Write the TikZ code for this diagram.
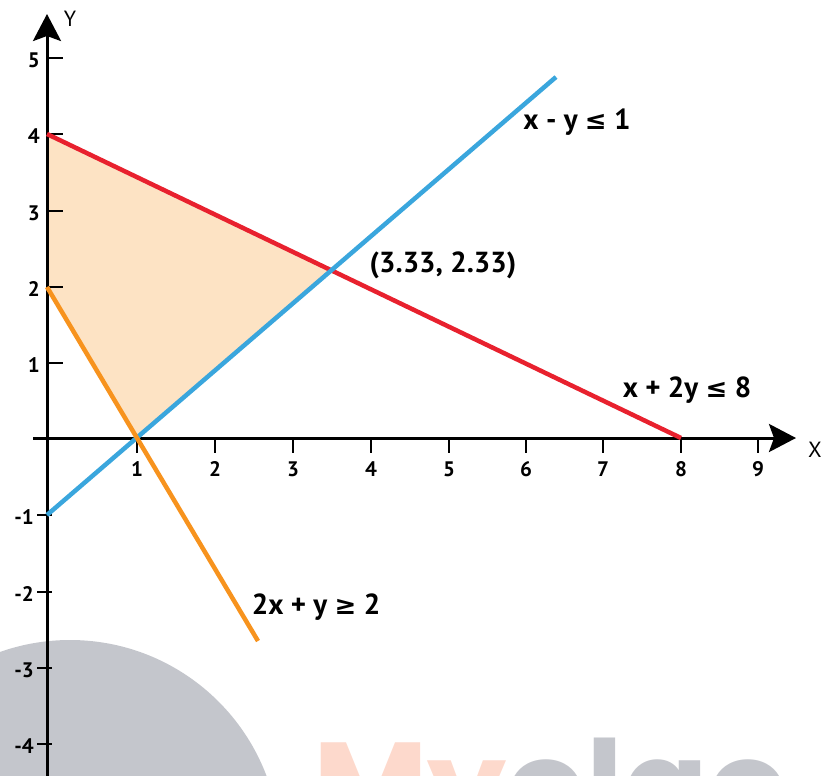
\documentclass[tikz,border=0pt]{standalone}
\usepackage{fontspec}
\setmainfont{PT Sans}
\newfontfamily\wmfont{Poppins}
\newfontfamily\symf{DejaVu Sans}
\usetikzlibrary{arrows.meta}
\definecolor{redl}{HTML}{E8212E}
\definecolor{bluel}{HTML}{3AA6DD}
\definecolor{orangel}{HTML}{F7931E}
\definecolor{fillc}{HTML}{FDE3C4}
\definecolor{wmgray}{HTML}{C4C6CC}
\definecolor{wmorange}{HTML}{FDD9CC}
\newcommand{\myle}{{\symf\fontsize{26}{30}\selectfont ≤}}
\newcommand{\myge}{{\symf\fontsize{26}{30}\selectfont ≥}}
\begin{document}
\begin{tikzpicture}[x=1pt,y=-1pt,
 axis/.style={line width=3pt, black},
 tickmark/.style={line width=2.6pt, black},
 ineq/.style={line width=4.5pt},
 lbl/.style={font=\fontsize{29}{32}\selectfont\bfseries, inner sep=0pt},
 ticklbl/.style={font=\fontsize{21}{24}\selectfont\bfseries, inner sep=0pt},
 axlbl/.style={font=\fontsize{22}{24}\selectfont, inner sep=0pt},
 arr/.style={-{Stealth[length=27pt,width=28pt,inset=5pt]}},
]
\useasboundingbox (0,0) rectangle (822,776);
\clip (0,0) rectangle (822,776);
% watermark
\fill[wmgray] (70,850) circle[radius=210pt];
\node[anchor=base west, inner sep=0pt, font=\wmfont\bfseries\fontsize{125}{130}\selectfont] (wm) at (313,830) {\textcolor{wmorange}{My}\textcolor{wmgray}{olgo}};
% key points
\coordinate (O) at (47,438);
\coordinate (ytop) at (47,14);
\coordinate (ybot) at (47,790);
\coordinate (xleft) at (33,438);
\coordinate (xright) at (796,438);
\coordinate (A) at (47,134);
\coordinate (P) at (331.3,270.3);
\coordinate (B) at (137,438);
\coordinate (C) at (47,287);
\coordinate (R8) at (681,438);
\coordinate (Bm1) at (47,515);
\coordinate (Bend) at (556,77);
\coordinate (Oend) at (258,641);
% feasible region
\fill[fillc] (A) -- (P) -- (B) -- (C) -- cycle;
% axes
\draw[axis, arr] (ybot) -- (ytop);
\draw[axis, arr] (xleft) -- (xright);
\node[axlbl] (ylab) at (70,19) {Y};
\node[axlbl] (xlab) at (815,450) {X};
% x ticks
\foreach \px/\t in {137/1,215/2,293/3,371/4,449/5,526/6,603/7,681/8,758/9}{
  \draw[tickmark] (\px,438) -- (\px,453);
  \node[ticklbl] (xt\t) at (\px,469) {\t};
}
% y ticks positive
\foreach \py/\t in {58/5,134/4,211/3,287/2,363/1}{
  \draw[tickmark] (47,\py) -- (63,\py);
  \node[ticklbl, anchor=east] (yt\t) at (40,\py+2) {\t};
}
% y ticks negative
\foreach \py/\t in {515/1,592/2,668/3,744/4}{
  \draw[tickmark] (37,\py) -- (52,\py);
  \node[ticklbl, anchor=east] (ytm\t) at (34,\py+2) {-\t};
}
% inequality lines
\draw[ineq, redl] (A) -- (R8);
\draw[ineq, bluel] (Bm1) -- (Bend);
\draw[ineq, orangel] (C) -- (Oend);
% labels
\node[lbl] (lp) at (443,265) {(3.33, 2.33)};
\node[lbl] (l1) at (577,122) {x - y \myle{} 1};
\node[lbl] (l2) at (687,390) {x + 2y \myle{} 8};
\node[lbl] (l3) at (316,607) {2x + y \myge{} 2};
\end{tikzpicture}
\end{document}
